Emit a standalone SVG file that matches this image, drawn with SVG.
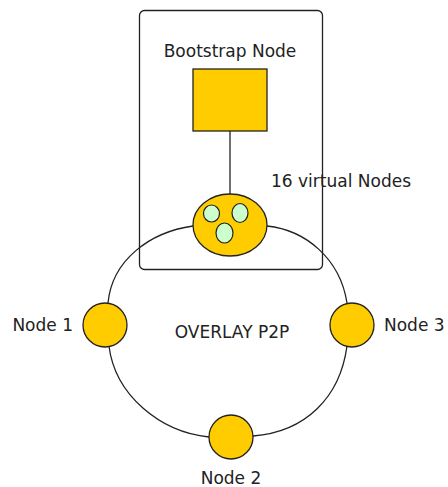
<svg xmlns="http://www.w3.org/2000/svg" width="448" height="487" viewBox="0 0 448 487">
<style>
text{font-family:"DejaVu Sans","Liberation Sans",sans-serif;font-size:17px;fill:#222}
.n{fill:#ffcc00;stroke:#222;stroke-width:1.3}
.v{fill:#ccffcc;stroke:#222;stroke-width:1.2}
.c{fill:none;stroke:#222;stroke-width:1.3}
</style>
<rect x="139.5" y="10.5" width="183" height="259" rx="5" fill="#fff" stroke="#222" stroke-width="1.3"/>
<g id="connectors">
<path class="c" d="M230 131 V194"/>
<path class="c" d="M193 226 C150 232 112 260 108 303"/>
<path class="c" d="M109 346 C115 395 160 432 209 437"/>
<path class="c" d="M253 436 C305 432 340 398 347 346"/>
<path class="c" d="M347 303 C340 258 305 230 267 226"/>
</g>
<g id="bootstrap">
<text x="230" y="57" text-anchor="middle">Bootstrap Node</text>
<rect class="n" x="193" y="69" width="74" height="62"/>
</g>
<g id="virtual">
<ellipse class="n" cx="230" cy="225" rx="37" ry="31"/>
<ellipse class="v" cx="211.5" cy="213.5" rx="8" ry="8.5"/>
<ellipse class="v" cx="240" cy="213" rx="8" ry="9.5"/>
<ellipse class="v" cx="224.5" cy="233" rx="8.5" ry="10"/>
<text x="271" y="187">16 virtual Nodes</text>
</g>
<g id="node1">
<circle class="n" cx="105" cy="325" r="22"/>
<text x="73" y="331" text-anchor="end">Node 1</text>
</g>
<g id="node3">
<circle class="n" cx="352" cy="325" r="22"/>
<text x="384" y="331">Node 3</text>
</g>
<g id="node2">
<circle class="n" cx="231" cy="437" r="22"/>
<text x="231" y="484" text-anchor="middle">Node 2</text>
</g>
<text x="232" y="338" text-anchor="middle">OVERLAY P2P</text>
</svg>
